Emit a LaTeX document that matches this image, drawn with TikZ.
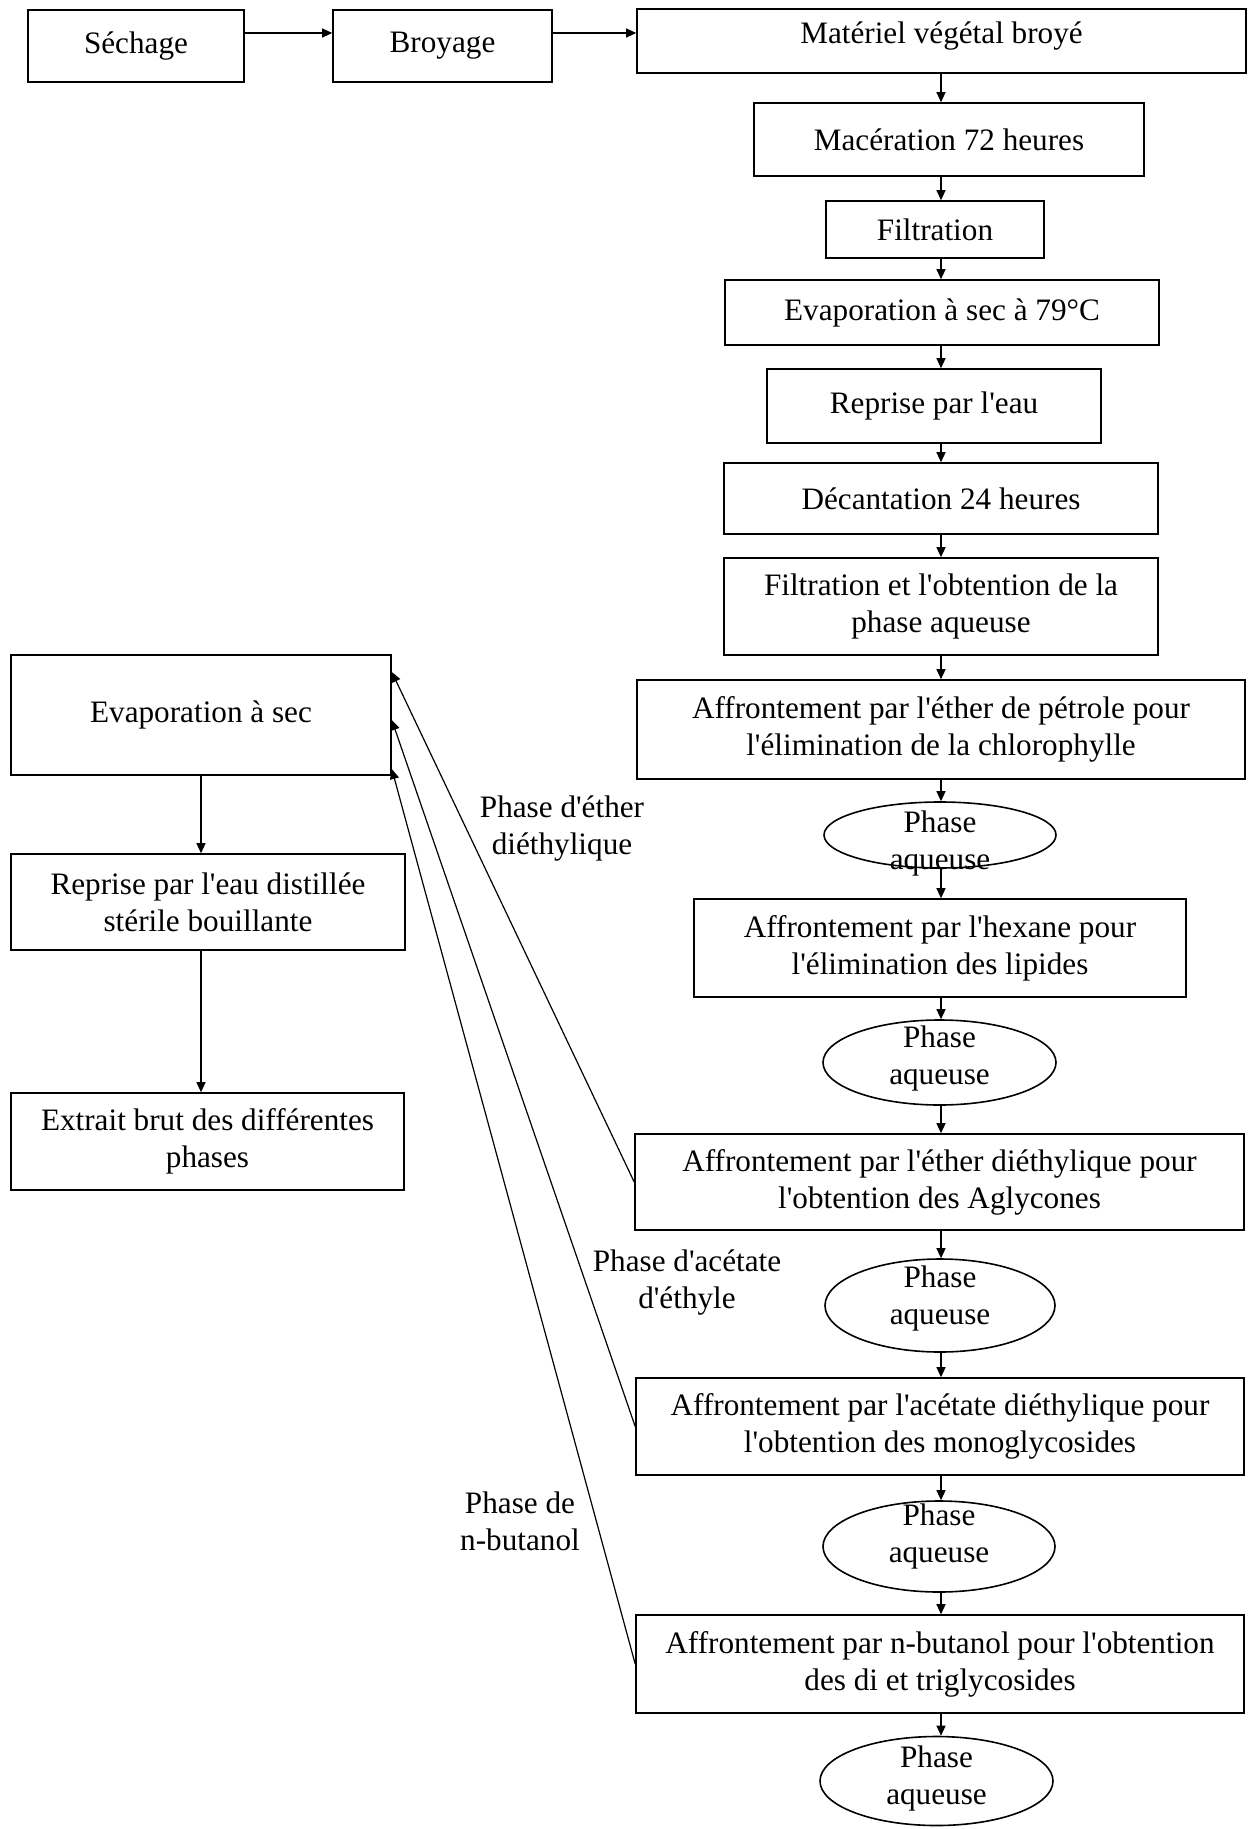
\documentclass[tikz,border=0pt]{standalone}
\usepackage{fontspec}
\setmainfont{Liberation Serif}[Ligatures=TeXOff]
\usetikzlibrary{arrows.meta,shapes.geometric}
\newcommand\fsz{\fontsize{15.6pt}{18.5pt}\selectfont}
\tikzset{
  box/.style={draw, rectangle, inner sep=1pt, align=center, font=\fsz, line width=0.8pt},
  ell/.style={draw, ellipse, inner sep=0pt, line width=0.8pt},
  txt/.style={align=center, font=\fsz, inner sep=0pt},
  arr/.style={-{Triangle[width=4.5pt,length=5pt]}, line width=0.6pt},
}
\begin{document}
\begin{tikzpicture}[x=0.5pt, y=-0.5pt]
\useasboundingbox (0,0) rectangle (1248,1829);
\coordinate (axis) at (941,0);
% top row
\node[box, minimum width=108pt, minimum height=36pt] (sech) at (136,46) {Séchage};
\node[box, minimum width=109.5pt, minimum height=36pt] (broy) at (442.5,46) {Broyage};
\node[box, minimum width=304.5pt, minimum height=32pt, text depth=8pt] (mat) at (941.5,41) {Matériel végétal broyé};
% right column
\node[box, minimum width=195pt, minimum height=36.5pt] (mac) at (949,139.5) {Macération 72 heures};
\node[box, minimum width=109pt, minimum height=28.5pt] (filt) at (935,229.5) {Filtration};
\node[box, minimum width=217pt, minimum height=32.5pt] (ev79) at (942,312.5) {Evaporation à sec à 79°C};
\node[box, minimum width=167pt, minimum height=37pt] (rep) at (934,406) {Reprise par l'eau};
\node[box, minimum width=217pt, minimum height=35.5pt] (dec) at (941,498.5) {Décantation 24 heures};
\node[box, minimum width=217pt, minimum height=48.5pt] (filt2) at (941,606.5) {Filtration et l'obtention de la\\phase aqueuse};
\node[box, minimum width=304pt, minimum height=49.5pt] (pet) at (941,729.5) {Affrontement par l'éther de pétrole pour\\l'élimination de la chlorophylle};
\node[ell, minimum width=116pt, minimum height=33pt, label={[txt, yshift=-4pt]center:Phase\\aqueuse}] (e1) at (940,835) {};
\node[box, minimum width=246pt, minimum height=49pt] (hex) at (940,948) {Affrontement par l'hexane pour\\l'élimination des lipides};
\node[ell, minimum width=116.5pt, minimum height=42.5pt, label={[txt, yshift=2pt]center:Phase\\aqueuse}] (e2) at (939.5,1062.5) {};
\node[box, minimum width=304.5pt, minimum height=48pt] (agl) at (939.5,1182) {Affrontement par l'éther diéthylique pour\\l'obtention des Aglycones};
\node[ell, minimum width=115pt, minimum height=46.5pt, label={[txt, yshift=3.5pt]center:Phase\\aqueuse}] (e3) at (940,1305.5) {};
\node[box, minimum width=304pt, minimum height=48.5pt] (mono) at (940,1426.5) {Affrontement par l'acétate diéthylique pour\\l'obtention des monoglycosides};
\node[ell, minimum width=116pt, minimum height=45.5pt, label={[txt, yshift=5pt]center:Phase\\aqueuse}] (e4) at (939,1546.5) {};
\node[box, minimum width=304pt, minimum height=49pt] (but) at (940,1664) {Affrontement par n-butanol pour l'obtention\\des di et triglycosides};
\node[ell, minimum width=116.5pt, minimum height=44.5pt, label={[txt, yshift=1.5pt]center:Phase\\aqueuse}] (e5) at (936.5,1781) {};
% left column
\node[box, minimum width=190pt, minimum height=60pt] (evs) at (201,715) {Evaporation à sec};
\node[box, minimum width=197pt, minimum height=48pt] (repd) at (208,902) {Reprise par l'eau distillée\\stérile bouillante};
\node[box, minimum width=196.5pt, minimum height=48.5pt] (ext) at (207.5,1141.5) {Extrait brut des différentes\\phases};
% labels
\node[txt] (l1) at (562,829) {Phase d'éther\\diéthylique};
\node[txt] (l2) at (687,1283) {Phase d'acétate\\d'éthyle};
\node[txt] (l3) at (520,1521) {Phase de\\n-butanol};
% top arrows
\draw[arr] ([yshift=6.5pt]sech.east) -- ([yshift=6.5pt]sech.east -| broy.west);
\draw[arr] ([yshift=6.5pt]broy.east) -- ([yshift=6.5pt]broy.east -| mat.west);
% column arrows
\foreach \a/\b in {mat/mac, mac/filt, filt/ev79, ev79/rep, rep/dec, dec/filt2, filt2/pet, pet/e1, e1/hex, hex/e2, e2/agl, agl/e3, e3/mono, mono/e4, e4/but, but/e5}
  \draw[arr] (\a.south -| axis) -- (\b.north -| axis);
% left arrows
\draw[arr] (evs.south) -- (evs.south |- repd.north);
\draw[arr] (evs.south |- repd.south) -- (evs.south |- ext.north);
% diagonal returns
\draw[arr] (agl.west) -- ([shift={(0,-43)}]evs.east);
\draw[arr] (mono.west) -- ([shift={(0,5)}]evs.east);
\draw[arr] (but.west) -- ([shift={(0,54)}]evs.east);
\end{tikzpicture}
\end{document}
